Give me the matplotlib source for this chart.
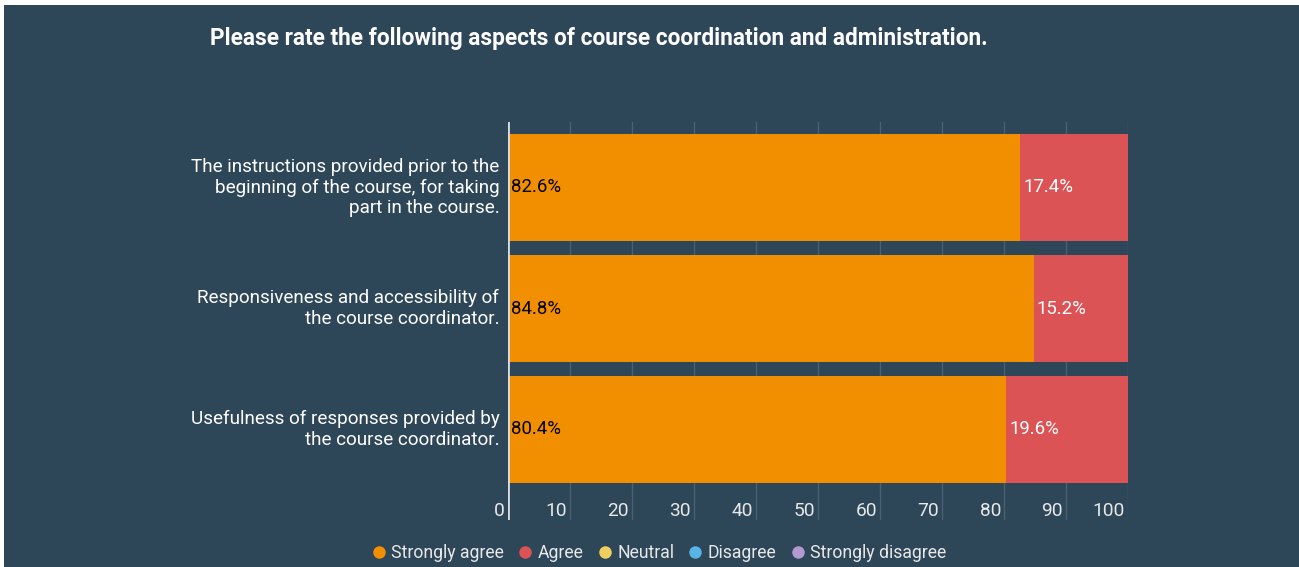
import matplotlib
matplotlib.use("Agg")
import matplotlib.pyplot as plt
from matplotlib.patches import Rectangle
from matplotlib.lines import Line2D

plt.rcParams['font.family'] = ['Roboto', 'DejaVu Sans']

title = "Please rate the following aspects of course coordination and administration."
categories = [
    "The instructions provided prior to the\nbeginning of the course, for taking\npart in the course.",
    "Responsiveness and accessibility of\nthe course coordinator.",
    "Usefulness of responses provided by\nthe course coordinator.",
]
series_names = ["Strongly agree", "Agree", "Neutral", "Disagree", "Strongly disagree"]
strongly_agree = [82.6, 84.8, 80.4]
agree = [17.4, 15.2, 19.6]
neutral = [0, 0, 0]
disagree = [0, 0, 0]
strongly_disagree = [0, 0, 0]
x_ticks = [0, 10, 20, 30, 40, 50, 60, 70, 80, 90, 100]

colors = ["#f28f00", "#dc5356", "#f0cf61", "#59b4e6", "#b299cf"]
bg = "#2d4658"

W, H = 1299, 567
fig = plt.figure(figsize=(W / 100, H / 100), dpi=100)
fig.patch.set_facecolor("white")
fig.add_artist(Rectangle((4 / W, 0), 1 - 4 / W, 1 - 5 / H, transform=fig.transFigure,
                         facecolor=bg, edgecolor="none", zorder=0))

def px(x0, y0, x1, y1):
    return [x0 / W, 1 - y1 / H, (x1 - x0) / W, (y1 - y0) / H]

ax = fig.add_axes(px(508, 122, 1128, 520))
ax.set_facecolor("none")
for s in ax.spines.values():
    s.set_visible(False)

band = 121.0
ax_h = 398.0
top = -(187.5 - 122) / band
ax.set_ylim(top + ax_h / band, top)
ax.set_xlim(0, 100)

ypos = list(range(len(categories)))
series = [strongly_agree, agree, neutral, disagree, strongly_disagree]
left = [0.0] * len(categories)
bh = 107 / band
for name, vals, c in zip(series_names, series, colors):
    ax.barh(ypos, vals, left=left, height=bh, color=c, edgecolor="none", zorder=2)
    for i, v in enumerate(vals):
        if v > 0:
            tc = "black" if c == colors[0] else "white"
            ax.text(left[i] + 0.5, i, f"{v:.1f}%", ha="left", va="center",
                    fontsize=13.4, color=tc, zorder=3)
    left = [l + v for l, v in zip(left, vals)]

# gridlines and zero line
for t in x_ticks[1:]:
    ax.axvline(t, color="#4b6070", lw=1, zorder=1)
ax.axvline(0, color="#d9dde0", lw=2, zorder=4)

ax.set_xticks([])
ax.set_yticks([])

# tick values, right-aligned just left of each gridline
tr = ax.get_xaxis_transform()
for t in x_ticks:
    ax.text(t - 0.5, (520 - 511) / ax_h, str(t), transform=tr, ha="right", va="center",
            fontsize=13.8, color="#e8e8e8")

# category labels
for i, lab in enumerate(categories):
    ax.text(-1.4, i, lab, ha="right", va="center", fontsize=13.6, color="white",
            linespacing=1.18)

fig.text(210 / W, 1 - 38 / H, title, ha="left", va="center", fontsize=16.3,
         fontweight="bold", color="white")

handles = [Line2D([], [], marker="o", linestyle="none", markersize=9,
                  markerfacecolor=c, markeredgecolor="none") for c in colors]
leg = fig.legend(handles, series_names, loc="center", bbox_to_anchor=(659 / W, 1 - 553.5 / H),
                 ncol=5, frameon=False, fontsize=12.7, handlelength=0.8, handletextpad=0.3,
                 columnspacing=0.8, borderpad=0)
for t in leg.get_texts():
    t.set_color("#e8e8e8")

fig.savefig("out.png", dpi=100, facecolor=fig.get_facecolor())
